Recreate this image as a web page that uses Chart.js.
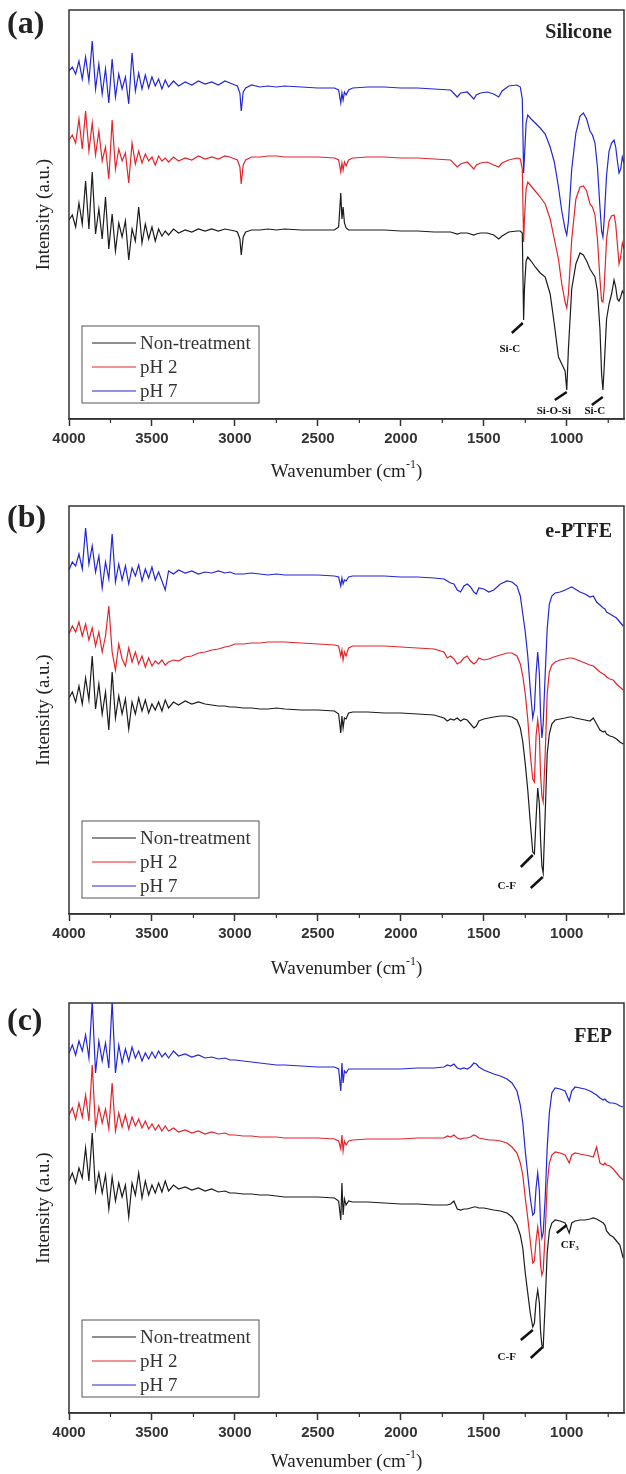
<!DOCTYPE html>
<html>
<head>
<meta charset="utf-8">
<script src="https://cdn.jsdelivr.net/npm/chart.js@4.4.0/dist/chart.umd.min.js"></script>
<style>
  body { margin: 0; background: #fff; }
  canvas { display: block; }
</style>
</head>
<body>
<canvas id="chartA" width="626" height="490"></canvas>
<canvas id="chartB" width="626" height="495"></canvas>
<canvas id="chartC" width="626" height="489"></canvas>
<script>
// Series names and tick labels
const seriesNames = ['Non-treatment', 'pH 2', 'pH 7'];
const seriesColors = ['#1c1c1c', '#e3242b', '#2326d6'];
const majorTicks = [4000, 3500, 3000, 2500, 2000, 1500, 1000];
const minorTicks = [3750, 3250, 2750, 2250, 1750, 1250, 750];

// (a) Silicone - wavenumbers (cm-1)
const waveA = [4000,3980,3960,3940,3920,3900,3880,3860,3840,3820,3800,3780,3760,3740,3720,3700,3680,3660,3640,3620,3600,3580,3560,3540,3520,3500,3480,3460,3440,3420,3400,
  3370,3340,3300,3260,3220,3180,3140,3100,3060,3030,3000,
  2985,2970,2962,2950,2935,2900,
  2850,2800,2750,2700,2600,2500,2400,
  2375,2362,2355,2348,2340,2330,2315,2290,
  2200,2100,2000,1900,1800,1700,
  1660,1640,1600,1560,1545,1520,1480,1440,1410,1390,1350,1300,1280,
  1268,1260,1255,1245,1235,1215,1190,1160,1130,1100,1075,1050,1030,1010,1000,990,970,945,
  920,900,880,860,845,830,815,800,790,782,775,760,745,730,715,705,695,685,675,665,655];
const silNon = [199,204,192,216,195,238,190,247,185,210,180,222,170,205,168,196,182,198,159,190,178,212,176,195,180,192,178,190,183,188,184,
  190,186,189,187,190,188,190,188,190,189,188,
  187,180,164,182,187,189,
  189,190,189,190,189,189,189,
  192,226,200,212,196,191,189,189,
  189,189,188,188,187,187,
  185,186,186,184,185,186,186,184,180,183,187,188,188,
  186,99,130,158,162,158,152,146,142,125,95,62,55,48,29,70,130,155,
  166,164,158,150,146,142,128,90,45,29,50,100,115,125,139,132,120,118,122,128,125];
const silPH2 = [279,284,276,300,270,308,268,296,264,288,258,272,240,299,250,270,258,266,236,276,255,268,256,265,258,262,254,263,258,261,257,
  262,258,261,259,263,260,262,260,263,262,260,
  259,252,235,254,259,262,
  262,263,263,262,262,262,261,
  259,247,256,249,257,253,259,261,
  262,262,261,261,260,259,
  252,255,257,250,254,256,257,254,252,256,259,261,260,
  250,177,200,230,237,233,228,222,215,200,180,160,135,117,111,125,180,220,
  232,233,228,215,212,204,180,140,118,117,130,180,198,203,204,195,175,155,162,176,170];
const silPH7 = [348,352,345,358,340,362,338,378,330,355,325,350,316,360,322,345,330,342,315,366,328,346,330,344,331,342,333,340,330,339,332,
  338,333,337,334,338,335,337,334,338,336,334,
  333,326,308,327,331,334,
  332,333,332,333,332,331,331,
  329,316,326,319,327,324,329,331,
  332,332,331,331,330,329,
  322,326,327,320,324,326,327,325,322,328,333,334,332,
  320,246,262,296,304,300,296,291,285,272,257,232,208,190,184,198,250,286,
  303,306,300,288,284,276,252,212,188,182,198,244,268,276,279,272,258,246,250,262,256];

// (b) e-PTFE and (c) FEP share one wavenumber grid
const waveBC = [4000,3980,3960,3940,3920,3900,3880,3860,3840,3820,3800,3780,3760,3740,3720,3700,3680,3660,3640,3620,3600,3580,3560,3540,3520,3500,3480,3460,3440,3420,3400,
  3370,3340,3300,3260,3220,3180,3140,3100,3060,3030,3000,
  2950,2900,2850,2800,2750,2700,2600,2500,2400,
  2375,2362,2355,2348,2340,2330,2315,2290,
  2200,2100,2000,1900,1800,1740,1720,1700,1680,1660,1640,1620,1600,1580,1560,1545,1530,1500,1470,1440,1400,1360,1330,1300,
  1280,1265,1250,1235,1220,1205,1195,1185,1175,1165,1158,1150,1142,1130,1118,1105,1090,1070,1040,1010,
  985,970,950,920,890,860,840,820,800,780,770,760,740,720,700,680,660];

const ptfeNon = [216,222,212,228,210,236,214,258,205,230,200,222,184,242,196,218,200,215,185,212,200,216,203,214,201,210,204,212,203,214,206,
  212,209,213,210,212,210,209,208,208,207,207,
  206,206,205,205,206,205,204,204,203,
  200,181,198,186,196,195,201,202,
  202,201,201,200,199,196,193,195,194,196,193,195,194,190,186,188,193,195,196,197,198,198,197,194,
  186,172,150,124,92,62,60,95,126,110,75,48,41,100,160,180,190,194,195,196,
  197,197,196,195,194,193,196,190,184,182,183,180,178,177,175,172,170];
const ptfePH2 = [280,288,282,292,278,290,274,286,268,282,262,278,308,262,244,270,255,248,266,252,262,250,258,247,256,248,253,250,254,249,252,
  254,253,257,258,261,262,264,265,267,268,270,
  270,271,271,272,272,272,271,270,269,
  268,258,264,254,262,258,266,268,
  268,268,267,266,265,262,256,258,255,250,252,256,258,253,250,252,256,254,255,257,259,261,261,258,
  250,238,220,195,160,135,132,178,194,178,140,118,112,160,220,242,249,252,254,255,
  256,256,255,253,251,249,248,245,242,240,239,237,235,234,230,227,224];
const ptfePH7 = [344,352,348,360,345,386,350,368,342,358,326,352,335,380,332,350,334,348,330,346,338,349,333,345,336,347,334,342,333,324,343,
  340,344,341,343,340,342,341,343,341,342,340,
  340,341,340,339,340,339,339,339,338,
  337,328,336,330,334,333,337,338,
  338,338,337,337,336,335,333,331,330,324,322,328,330,327,322,320,326,325,322,324,330,333,332,328,
  318,300,282,258,225,196,205,240,262,240,200,176,190,240,285,310,318,321,322,324,
  326,327,325,322,320,317,318,312,309,306,305,302,300,298,296,292,288];

const fepNon = [232,240,230,245,235,265,232,280,222,240,220,238,204,236,212,230,216,228,196,230,218,240,215,232,218,228,220,230,221,232,222,
  228,224,226,223,225,222,224,221,222,220,220,
  219,219,218,218,217,216,216,216,215,
  212,193,230,198,214,208,212,211,
  211,210,209,209,208,208,208,209,212,204,203,204,204,205,206,206,205,205,204,203,202,200,196,188,
  178,165,140,120,100,86,90,112,123,110,82,68,66,110,160,182,190,193,192,190,
  180,190,192,193,193,194,195,194,192,190,188,182,178,176,172,168,155];
const fepPH2 = [298,305,294,310,296,318,292,348,285,306,290,304,284,330,282,300,286,298,284,296,287,294,285,292,284,289,283,288,282,287,282,
  285,281,283,280,282,279,281,279,280,278,278,
  277,277,276,276,276,275,275,275,274,
  272,264,278,262,272,268,272,273,
  274,274,274,275,275,275,277,276,278,275,274,275,275,276,278,277,275,274,273,273,272,270,266,260,
  250,238,215,195,172,150,152,172,186,172,148,138,142,180,228,250,258,261,260,258,
  250,258,260,259,258,257,256,266,250,248,250,248,247,244,240,236,233];
const fepPH7 = [360,368,358,372,362,378,355,412,340,372,352,370,345,412,340,368,350,364,352,366,355,362,352,360,354,361,355,362,356,360,355,
  362,357,359,356,358,355,356,354,355,353,353,
  352,351,350,349,348,348,347,346,346,
  344,322,350,330,342,340,344,344,
  344,344,344,345,345,346,348,347,349,345,344,345,344,346,350,349,346,343,341,339,337,334,330,322,
  308,290,262,238,215,198,200,225,240,222,190,175,180,215,265,300,320,325,324,322,
  312,322,326,325,324,322,320,318,315,313,314,312,310,310,309,307,306];

// Peak labels with their leader strokes, in wavenumber / intensity units
const notesA = [{ text: 'Si-C', x: 1343, y: 70 }, { text: 'Si-O-Si', x: 1078, y: 8 }, { text: 'Si-C', x: 831, y: 8 }];
const leadersA = [[1331, 86, 1265, 96], [1072, 19, 1000, 27], [849, 14, 783, 22]];
const notesB = [{ text: 'C-F', x: 1362, y: 28 }];
const leadersB = [[1277, 47, 1205, 59], [1217, 26, 1145, 37]];
const notesC = [{ text: 'C-F', x: 1362, y: 56 }, { text: 'CF₃', x: 982, y: 168 }];
const leadersC = [[1277, 73, 1205, 83], [1217, 55, 1145, 66], [1060, 180, 1000, 188]];

const panels = [
  { id: 'chartA', tag: '(a)', name: 'Silicone', wave: waveA, values: [silNon, silPH2, silPH7],
    top: 10, bottom: 419, h: 490, titleY: 472, tagY: 25, nameY: 33, notes: notesA, leaders: leadersA },
  { id: 'chartB', tag: '(b)', name: 'e-PTFE', wave: waveBC, values: [ptfeNon, ptfePH2, ptfePH7],
    top: 16, bottom: 424, h: 495, titleY: 479, tagY: 29, nameY: 42, notes: notesB, leaders: leadersB },
  { id: 'chartC', tag: '(c)', name: 'FEP', wave: waveBC, values: [fepNon, fepPH2, fepPH7],
    top: 18, bottom: 428, h: 489, titleY: 477, tagY: 37, nameY: 52, notes: notesC, leaders: leadersC }
];

const serif = '"Liberation Serif", "Times New Roman", serif';
const ink = '#222';

// frame, minor ticks, titles, legend and peak notes
const decor = {
  id: 'decor',
  afterDraw(chart, args, p) {
    const ctx = chart.ctx;
    const a = chart.chartArea;
    const xs = chart.scales.x, ys = chart.scales.y;
    ctx.save();
    ctx.strokeStyle = '#333';
    ctx.lineWidth = 1.5;
    ctx.strokeRect(a.left, a.top, a.right - a.left, a.bottom - a.top);
    ctx.lineWidth = 1.2;
    minorTicks.forEach(v => {
      const px = xs.getPixelForValue(v);
      ctx.beginPath();
      ctx.moveTo(px, a.bottom);
      ctx.lineTo(px, a.bottom + 4);
      ctx.stroke();
    });

    ctx.fillStyle = ink;
    ctx.textBaseline = 'middle';
    ctx.font = 'bold 32px ' + serif;
    ctx.textAlign = 'left';
    ctx.fillText(p.tag, 7, p.tagY);
    ctx.font = 'bold 20px ' + serif;
    ctx.textAlign = 'right';
    ctx.fillText(p.name, 612, p.nameY);

    // y title
    ctx.save();
    ctx.translate(44, (a.top + a.bottom) / 2);
    ctx.rotate(-Math.PI / 2);
    ctx.textAlign = 'center';
    ctx.font = '19px ' + serif;
    ctx.fillText('Intensity (a.u.)', 0, 0);
    ctx.restore();

    // x title with superscript
    ctx.textAlign = 'left';
    ctx.font = '19px ' + serif;
    const t1 = 'Wavenumber (cm', t3 = ')';
    const w1 = ctx.measureText(t1).width, w3 = ctx.measureText(t3).width;
    ctx.font = '12px ' + serif;
    const w2 = ctx.measureText('-1').width;
    let tx = (a.left + a.right) / 2 - (w1 + w2 + w3) / 2;
    ctx.font = '19px ' + serif;
    ctx.fillText(t1, tx, p.titleY);
    ctx.font = '12px ' + serif;
    ctx.fillText('-1', tx + w1, p.titleY - 7);
    ctx.font = '19px ' + serif;
    ctx.fillText(t3, tx + w1 + w2, p.titleY);

    // legend box
    const bx = a.left + 13, by = a.bottom - 93;
    ctx.strokeStyle = '#555';
    ctx.lineWidth = 1;
    ctx.strokeRect(bx, by, 177, 77);
    chart.data.datasets.forEach((ds, i) => {
      const ly = by + 17 + i * 24;
      ctx.strokeStyle = ds.borderColor;
      ctx.beginPath();
      ctx.moveTo(bx + 10, ly);
      ctx.lineTo(bx + 54, ly);
      ctx.stroke();
      ctx.fillStyle = '#333';
      ctx.font = '19px ' + serif;
      ctx.fillText(ds.label, bx + 58, ly + 1);
    });

    // peak notes
    ctx.strokeStyle = '#111';
    ctx.lineWidth = 2.5;
    p.leaders.forEach(l => {
      ctx.beginPath();
      ctx.moveTo(xs.getPixelForValue(l[0]), ys.getPixelForValue(l[1]));
      ctx.lineTo(xs.getPixelForValue(l[2]), ys.getPixelForValue(l[3]));
      ctx.stroke();
    });
    ctx.fillStyle = '#111';
    ctx.font = 'bold 11px ' + serif;
    ctx.textAlign = 'center';
    p.notes.forEach(n => {
      ctx.fillText(n.text, xs.getPixelForValue(n.x), ys.getPixelForValue(n.y));
    });
    ctx.restore();
  }
};

function drawPanel(p) {
  const datasets = p.values.map((vals, i) => ({
    label: seriesNames[i],
    data: p.wave.map((w, k) => ({ x: w, y: vals[k] })),
    borderColor: seriesColors[i],
    borderWidth: 1.2,
    pointRadius: 0,
    tension: 0,
    fill: false
  }));
  new Chart(document.getElementById(p.id), {
    type: 'line',
    data: { datasets: datasets },
    plugins: [decor],
    options: {
      responsive: false,
      animation: false,
      layout: { padding: { top: p.top, left: 69, right: 2, bottom: 0 } },
      plugins: { legend: { display: false }, tooltip: { enabled: false }, decor: p },
      scales: {
        x: {
          type: 'linear', reverse: true, min: 655, max: 4000,
          afterBuildTicks: s => { s.ticks = majorTicks.map(v => ({ value: v })); },
          afterFit: s => { s.height = p.h - p.bottom; },
          grid: { drawOnChartArea: false, tickLength: 7, color: '#333', tickWidth: 1.5 },
          border: { color: '#333', width: 1.5 },
          ticks: { autoSkip: false, maxRotation: 0, padding: 4, color: '#333',
                   callback: v => String(v),
                   font: { family: '"Liberation Sans", Arial, sans-serif', size: 15, weight: 'bold' } }
        },
        y: { display: false, min: 0, max: p.bottom - p.top }
      }
    }
  });
}

panels.forEach(drawPanel);
</script>
</body>
</html>
